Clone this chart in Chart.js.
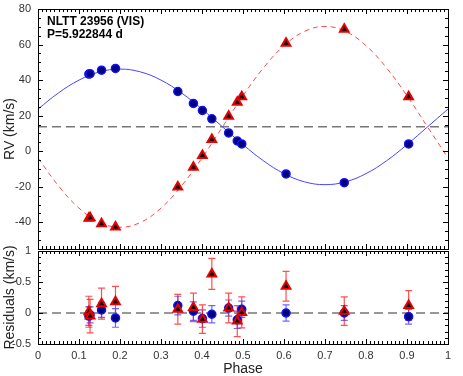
<!DOCTYPE html>
<html>
<head>
<meta charset="utf-8">
<script src="https://cdn.jsdelivr.net/npm/chart.js@4.4.0/dist/chart.umd.min.js"></script>
<style>
  body { margin: 0; background: #fff; }
  #wrap { position: relative; width: 463px; height: 376px; }
  canvas { position: absolute; left: 0; }
</style>
</head>
<body>
<div id="wrap">
  <canvas id="resChart" width="463" height="132" style="top:244px"></canvas>
  <canvas id="rvChart" width="463" height="250" style="top:0"></canvas>
</div>
<script>
// observed phases (two spectra sit almost on top of each other near 0.125)
const phase = [0.124, 0.127, 0.155, 0.189, 0.341, 0.379, 0.401, 0.424, 0.465, 0.486, 0.497, 0.605, 0.747, 0.904];
// radial velocities, km/s
const rvPrimary   = [43.4, 43.6, 45.6, 46.6, 33.6, 26.9, 22.9, 18.2, 10.3, 5.8, 4.1, -12.8, -17.7, 4.1];
const rvSecondary = [-37.7, -37.4, -40.8, -42.6, -20.1, -9.0, -2.4, 6.6, 19.7, 27.6, 30.6, 60.7, 68.6, 30.6];
// residuals and their errors, km/s
const resPrimary   = [-0.05, -0.03, 0.05, -0.08, 0.12, 0.03, -0.09, -0.02, 0.08, -0.11, 0.06, 0.00, 0.00, -0.06];
const errPrimary   = [0.15, 0.13, 0.12, 0.15, 0.15, 0.15, 0.14, 0.14, 0.13, 0.14, 0.13, 0.13, 0.12, 0.12];
const resSecondary = [0.02, -0.05, 0.15, 0.18, 0.06, 0.09, -0.10, 0.63, 0.08, -0.13, 0.01, 0.43, 0.03, 0.12];
const errSecondary = [0.25, 0.27, 0.25, 0.25, 0.24, 0.23, 0.23, 0.25, 0.24, 0.25, 0.25, 0.24, 0.23, 0.24];
// orbit fit
const fitPhase = [0, 0.05, 0.1, 0.15, 0.2, 0.25, 0.3, 0.35, 0.4, 0.45, 0.5, 0.55, 0.6, 0.65, 0.7, 0.75, 0.8, 0.85, 0.9, 0.95, 1];
const fitPrimary   = [23.7, 32.8, 40.0, 44.6, 46.2, 44.6, 40.0, 32.8, 23.7, 13.7, 3.7, -5.4, -12.6, -17.2, -18.8, -17.2, -12.6, -5.4, 3.7, 13.7, 23.7];
const fitSecondary = [-3.8, -19.5, -32.0, -40.0, -42.8, -40.0, -32.0, -19.5, -3.8, 13.7, 31.2, 46.9, 59.4, 67.4, 70.2, 67.4, 59.4, 46.9, 31.2, 13.7, -3.8];
const gamma = 13.7;
// axis ticks
const xTicks = [0, 0.1, 0.2, 0.3, 0.4, 0.5, 0.6, 0.7, 0.8, 0.9, 1];
const rvTicks = [-40, -20, 0, 20, 40, 60, 80];
const resTicks = [-0.5, 0, 0.5, 1];
const title1 = 'NLTT 23956 (VIS)';
const title2 = 'P=5.922844 d';

const FONT = 'Liberation Sans, Arial, Helvetica, sans-serif';
const BLUE_LINE = '#4646ff';
const RED_LINE = '#ff4a4a';

const pts = (xs, ys) => xs.map((x, i) => ({ x: x, y: ys[i] }));

// frame, inward ticks on all four sides, and the y tick labels
const framePlugin = {
  id: 'frame',
  afterDraw(chart, args, opts) {
    const { ctx, chartArea: a, scales } = chart;
    const x = scales.x, y = scales.y;
    ctx.save();
    ctx.strokeStyle = '#000';
    ctx.lineWidth = 1;
    const seg = (x1, y1, x2, y2) => { ctx.beginPath(); ctx.moveTo(x1, y1); ctx.lineTo(x2, y2); ctx.stroke(); };
    for (let k = 0; k <= 100; k++) {
      const px = Math.round(x.getPixelForValue(k / 100)) + 0.5;
      const len = k % 10 === 0 ? 5 : 3;
      seg(px, a.top, px, a.top + len);
      seg(px, a.bottom, px, a.bottom - len);
    }
    const n = Math.round((opts.yMax - opts.yMin) / opts.yMinor);
    for (let i = 0; i <= n; i++) {
      const v = opts.yMin + i * opts.yMinor;
      const r = v / opts.yMajor;
      const len = Math.abs(r - Math.round(r)) < 1e-6 ? 5 : 3;
      const py = Math.round(y.getPixelForValue(v)) + 0.5;
      seg(a.left, py, a.left + len, py);
      seg(a.right, py, a.right - len, py);
    }
    ctx.strokeRect(Math.round(a.left) + 0.5, Math.round(a.top) + 0.5,
      Math.round(a.right - a.left), Math.round(a.bottom - a.top));
    // y tick labels
    ctx.fillStyle = '#333';
    ctx.font = '11px ' + FONT;
    ctx.textAlign = 'right';
    ctx.textBaseline = 'middle';
    (opts.labels || []).forEach(v => ctx.fillText(String(v), a.left - 7, y.getPixelForValue(v)));
    ctx.restore();
  }
};

const labelPlugin = {
  id: 'label',
  afterDraw(chart) {
    const { ctx, chartArea: a } = chart;
    ctx.save();
    ctx.fillStyle = '#000';
    ctx.font = 'bold 12px ' + FONT;
    ctx.textAlign = 'left';
    ctx.textBaseline = 'middle';
    ctx.fillText(title1, a.left + 9, a.top + 13);
    ctx.fillText(title2, a.left + 9, a.top + 26);
    ctx.restore();
  }
};

const errorBarPlugin = {
  id: 'errbars',
  beforeDatasetsDraw(chart) {
    const { ctx, scales: { x, y } } = chart;
    const draw = (vals, errs, color) => {
      ctx.strokeStyle = color;
      ctx.lineWidth = 1.2;
      vals.forEach((v, i) => {
        const px = x.getPixelForValue(phase[i]);
        const top = y.getPixelForValue(v + errs[i]);
        const bot = y.getPixelForValue(v - errs[i]);
        ctx.beginPath();
        ctx.moveTo(px, top); ctx.lineTo(px, bot);
        ctx.moveTo(px - 3.5, top); ctx.lineTo(px + 3.5, top);
        ctx.moveTo(px - 3.5, bot); ctx.lineTo(px + 3.5, bot);
        ctx.stroke();
      });
    };
    ctx.save();
    draw(resPrimary, errPrimary, 'rgba(40,40,255,0.7)');
    draw(resSecondary, errSecondary, 'rgba(255,20,20,0.75)');
    ctx.restore();
  }
};

const circleStyle = {
  pointStyle: 'circle', pointRadius: 4, pointBackgroundColor: '#00007a',
  pointBorderColor: '#1010ff', pointBorderWidth: 1.5, showLine: false
};
const triStyle = {
  pointStyle: 'triangle', pointRadius: 5, pointBackgroundColor: '#000',
  pointBorderColor: '#e80000', pointBorderWidth: 2, showLine: false
};

function yAxis(min, max, title) {
  return {
    min: min, max: max,
    afterFit: s => { s.width = 38; s.paddingTop = 0; s.paddingBottom = 0; },
    grid: { display: false, drawTicks: false },
    border: { display: false },
    ticks: { display: false },
    title: { display: true, text: title, color: '#222', font: { family: FONT, size: 14, lineHeight: 1 }, padding: { top: 3, bottom: 0 } }
  };
}

// keep the plot frame where the figure has it
function fixBottom(chart, want) {
  const d = Math.round(want - chart.chartArea.bottom);
  if (d !== 0) chart.resize(chart.width, chart.height + d);
}

new Chart(document.getElementById('resChart'), {
  type: 'scatter',
  data: {
    datasets: [
      Object.assign({ data: pts(phase, resPrimary), order: 1 }, circleStyle),
      Object.assign({ data: pts(phase, resSecondary), order: 0 }, triStyle),
      { type: 'line', data: pts([0, 1], [0, 0]), borderColor: '#777', borderWidth: 1.5, borderDash: [9, 5], pointRadius: 0, order: 4 }
    ]
  },
  options: {
    responsive: false,
    maintainAspectRatio: false,
    animation: false,
    layout: { padding: { left: 0, right: 15, top: 5, bottom: 0 } },
    plugins: { legend: { display: false }, tooltip: { enabled: false }, frame: { yMin: -0.5, yMax: 1, yMinor: 0.1, yMajor: 0.5, labels: resTicks } },
    scales: {
      x: {
        type: 'linear', min: 0, max: 1,
        afterBuildTicks: s => { s.ticks = xTicks.map(v => ({ value: v })); },
        afterFit: s => { s.height = 32; s.paddingLeft = 0; s.paddingRight = 0; },
        grid: { display: false, drawTicks: false },
        border: { display: false },
        ticks: { color: '#333', font: { family: FONT, size: 11 }, padding: 5, maxRotation: 0, callback: v => String(v) },
        title: { display: true, text: 'Phase', color: '#222', font: { family: FONT, size: 14, lineHeight: 1 }, padding: { top: 0, bottom: 0 } }
      },
      y: yAxis(-0.5, 1, 'Residuals (km/s)')
    }
  },
  plugins: [framePlugin, errorBarPlugin]
});

const rvChart = new Chart(document.getElementById('rvChart'), {
  type: 'scatter',
  data: {
    datasets: [
      Object.assign({ data: pts(phase, rvPrimary), order: 1 }, circleStyle),
      Object.assign({ data: pts(phase, rvSecondary), order: 0 }, triStyle),
      { type: 'line', data: pts(fitPhase, fitPrimary), borderColor: BLUE_LINE, borderWidth: 1, pointRadius: 0, tension: 0.4, order: 3 },
      { type: 'line', data: pts(fitPhase, fitSecondary), borderColor: RED_LINE, borderWidth: 1, borderDash: [5, 4], pointRadius: 0, tension: 0.4, order: 3 },
      { type: 'line', data: pts([0, 1], [gamma, gamma]), borderColor: '#777', borderWidth: 1.5, borderDash: [9, 5], pointRadius: 0, order: 4 }
    ]
  },
  options: {
    responsive: false,
    maintainAspectRatio: false,
    animation: false,
    layout: { padding: { left: 0, right: 15, top: 9, bottom: 1 } },
    plugins: { legend: { display: false }, tooltip: { enabled: false }, frame: { yMin: -55, yMax: 80, yMinor: 5, yMajor: 20, labels: rvTicks } },
    scales: {
      x: { type: 'linear', min: 0, max: 1, display: false },
      y: yAxis(-55, 80, 'RV (km/s)')
    }
  },
  plugins: [framePlugin, labelPlugin]
});
fixBottom(rvChart, 249);
</script>
</body>
</html>
